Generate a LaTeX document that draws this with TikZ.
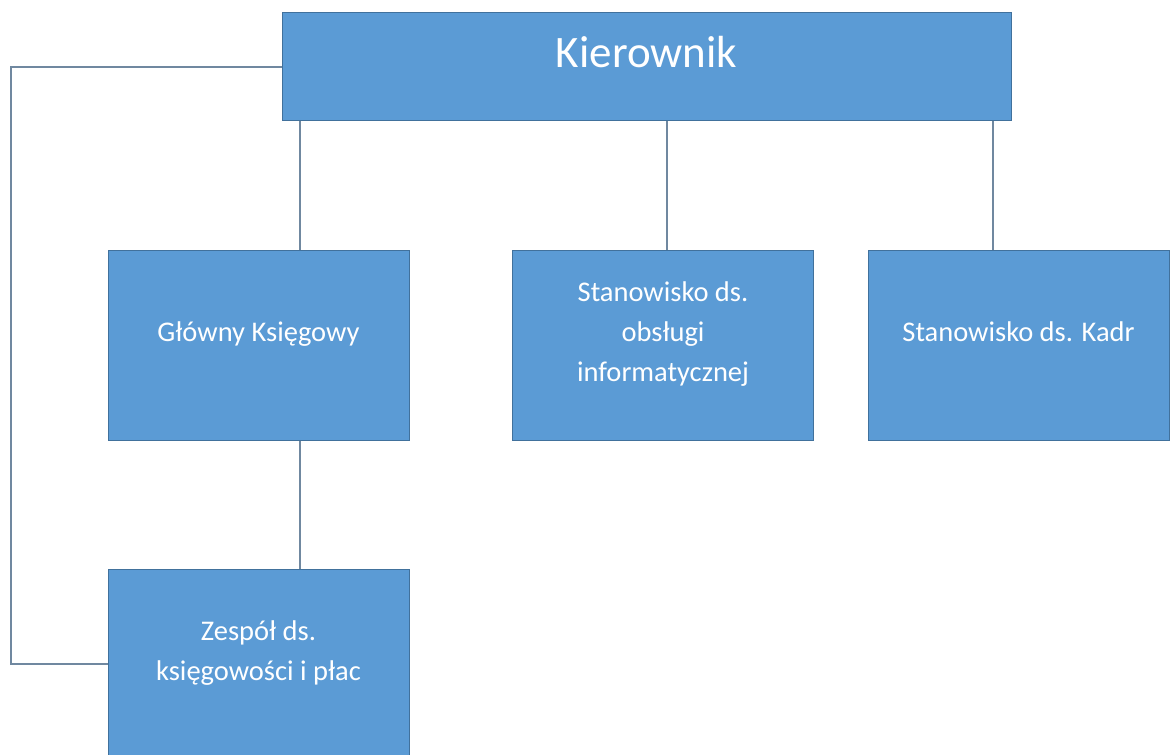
\documentclass[tikz,border=0pt]{standalone}
\usepackage{fontspec}
\setmainfont{Carlito}
\usetikzlibrary{positioning,calc}
\definecolor{boxblue}{HTML}{5B9BD5}
\definecolor{boxedge}{HTML}{41719C}
\definecolor{linegray}{HTML}{7088A0}

\begin{document}
\begin{tikzpicture}[x=0.5pt, y=-0.5pt,
        unit/.style={draw=boxedge, line width=0.5pt, fill=boxblue, text=white, align=center,
            minimum width=150.5pt, minimum height=95pt, inner sep=0pt, text depth=13pt,
            font=\fontsize{14.25}{20}\selectfont},
        head/.style={unit, minimum width=364.5pt, minimum height=54pt, text depth=15pt,
            font=\fontsize{22.5}{27}\selectfont},
        conn/.style={draw=linegray, line width=0.75pt}]
    \useasboundingbox (0,0) rectangle (1171,754);

    \coordinate (gx) at (300,0);
    \coordinate (ix) at (667,0);
    \coordinate (kx) at (993,0);
    \coordinate (lx) at (11,0);

    \node[head] (kier) at (646.5,67) {Kierownik};
    \node[unit] (glowny) at (258.5,345) {Główny Księgowy};
    \node[unit] (info) at (663,345) {Stanowisko ds.\\obsługi\\informatycznej};
    \node[unit] (kadr) at (1018.5,345) {Stanowisko ds. Kadr};
    \node[unit] (zespol) at (258.5,664) {Zespół ds.\\księgowości i płac};

    % connectors
    \draw[conn] (kier.south -| gx) -- (glowny.north -| gx);
    \draw[conn] (glowny.south -| gx) -- (zespol.north -| gx);
    \draw[conn] (kier.south -| ix) -- (info.north -| ix);
    \draw[conn] (kier.south -| kx) -- (kadr.north -| kx);
    \draw[conn] (kier.west) -| (zespol.west -| lx) -- (zespol.west);
\end{tikzpicture}
\end{document}
